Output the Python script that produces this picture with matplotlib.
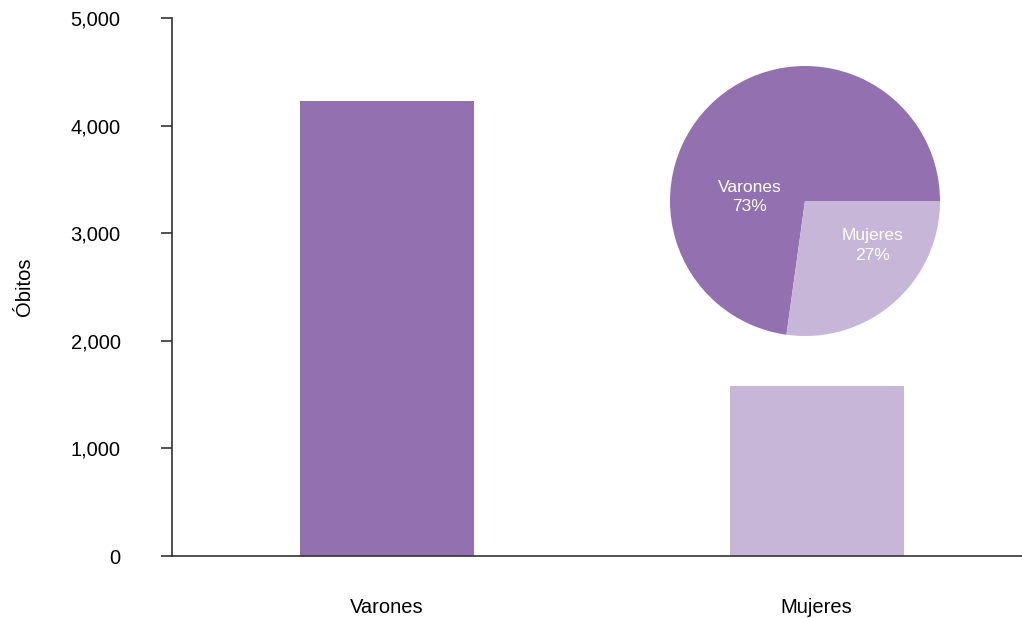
import matplotlib.pyplot as plt
from matplotlib.ticker import FuncFormatter

# Deaths by sex
sexos = ["Varones", "Mujeres"]
obitos = [4230, 1580]
colores = ["#9370B0", "#C8B6D8"]

plt.rcParams["font.family"] = ["Liberation Sans", "DejaVu Sans"]

fig = plt.figure(figsize=(10.22, 6.18), dpi=100)
ax = fig.add_axes([172 / 1022, 1 - 556 / 618, 1 - 172 / 1022, (556 - 18) / 618])

pos = range(len(sexos))
ax.bar(pos, obitos, width=0.405, color=colores)
ax.set_xlim(-0.5, 1.478)
ax.set_ylim(0, 5000)
ax.set_yticks(range(0, 5001, 1000))
ax.yaxis.set_major_formatter(FuncFormatter(lambda v, p: f"{int(v):,}"))
ax.set_xticks(list(pos))
ax.set_xticklabels(sexos)
ax.tick_params(axis="x", length=0, pad=30, labelsize=14.5)
ax.tick_params(axis="y", direction="out", length=8, width=1.2, color="#333333", pad=29, labelsize=14.5)
ax.set_ylabel("Óbitos", fontsize=14.5, labelpad=26)
for s in ["top", "right"]:
    ax.spines[s].set_visible(False)
for s in ["left", "bottom"]:
    ax.spines[s].set_color("#333333")
    ax.spines[s].set_linewidth(1.2)

# share of each sex as an inset pie
r = 135
pax = fig.add_axes([(805 - r) / 1022, 1 - (201 + r) / 618, 2 * r / 1022, 2 * r / 618])
pax.pie(obitos, colors=colores, startangle=0, counterclock=True, radius=1)
pax.set_xlim(-1, 1)
pax.set_ylim(-1, 1)
pax.set_aspect("auto")
pax.axis("off")

total = sum(obitos)
label_pos = [(-0.41, 0.03), (0.50, -0.33)]
for (x, y), nombre, v in zip(label_pos, sexos, obitos):
    pax.text(x, y, f"{nombre}\n{v / total * 100:.0f}%", color="white",
             ha="center", va="center", fontsize=12.5, linespacing=1.35)

fig.savefig("out.png", dpi=100)
